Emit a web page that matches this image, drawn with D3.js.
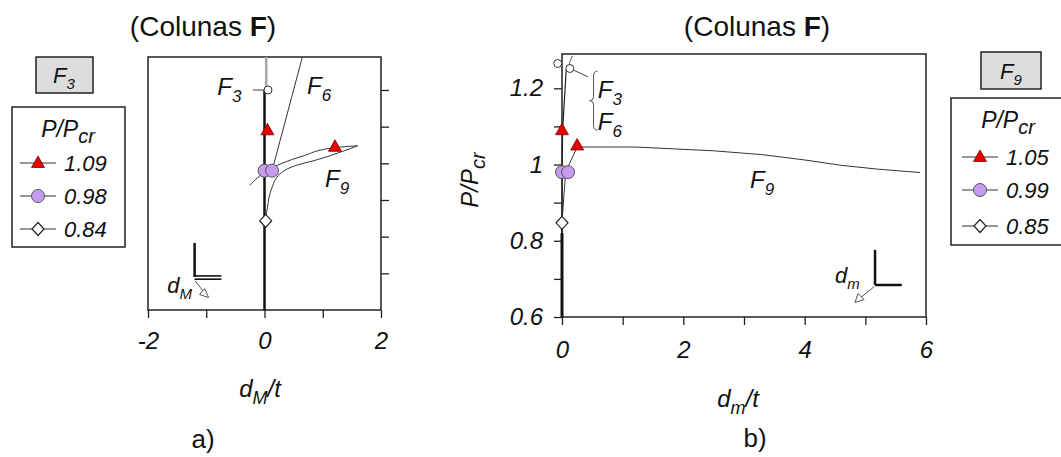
<!doctype html>
<html lang="pt">
<head>
<meta charset="UTF-8">
<title>Colunas F</title>
<script src="https://cdn.jsdelivr.net/npm/d3@7"></script>
<style>
body { margin: 0; background: #fff; }
text { font-family: Arial, "Liberation Sans", sans-serif; fill: #111; }
.it { font-style: italic; }
</style>
</head>
<body>
<div id="chart"></div>
<script>
// panel a) -- d_M/t vs P/Pcr
var aXTicks = [-2, -1, 0, 1, 2];
var aXLabels = [-2, 0, 2];
var aYTicks = [0.7, 0.8, 0.9, 1.0, 1.1, 1.2];
var aF3 = [[0, 0.6], [0, 1.2]];
var aF3top = [[0.03, 1.2], [0.03, 1.29]];
var aF6 = [[0.13, 0.98], [0.65, 1.29]];
var aF9up = [[-0.25, 0.94], [0.05, 0.98], [0.3, 1.0], [0.66, 1.02], [1.21, 1.043], [1.6, 1.048]];
var aF9lo = [[1.6, 1.048], [0.95, 1.012], [0.5, 0.992], [0.27, 0.972], [0.12, 0.93], [0.05, 0.88], [0.02, 0.845]];
var aTri = [[0.05, 1.09], [1.21, 1.045]];
var aCirc = [[0, 0.98], [0.13, 0.98]];
var aDia = [[0.02, 0.843]];
var aOpen = [[0.06, 1.2]];
var aLegend = ['1.09', '0.98', '0.84'];

// panel b) -- d_m/t vs P/Pcr
var bXTicks = [0, 1, 2, 3, 4, 5, 6];
var bXLabels = [0, 2, 4, 6];
var bYTicks = [0.6, 0.7, 0.8, 0.9, 1.0, 1.1, 1.2];
var bYLabels = ['0.6', '0.8', '1', '1.2'];
var bF3 = [[0, 0.6], [0, 0.98], [0.01, 1.09], [0.07, 1.25]];
var bF9 = [[0, 0.6], [0, 0.85], [0.06, 0.98], [0.25, 1.046], [0.6, 1.046], [1.2, 1.046], [1.6, 1.043],
           [2.5, 1.036], [3.3, 1.026], [4, 1.012], [4.6, 0.998], [5.2, 0.988], [5.9, 0.979]];
var bTri = [[0, 1.09], [0.25, 1.05]];
var bCirc = [[0, 0.98], [0.1, 0.98]];
var bDia = [[0, 0.847]];
var bOpen = [[-0.07, 1.265], [0.13, 1.252]];
var bLegend = ['1.05', '0.99', '0.85'];

var svg = d3.select('#chart').append('svg')
  .attr('width', 1061)
  .attr('height', 457);

var ax = d3.scaleLinear().domain([-2, 2]).range([148, 381]);
var ay = d3.scaleLinear().domain([0.6, 1.29]).range([310, 57]);
var bx = d3.scaleLinear().domain([0, 6]).range([562, 926]);
var by = d3.scaleLinear().domain([0.6, 1.29]).range([317, 54]);

var line = function(x, y) {
  return d3.line().x(function(d) { return x(d[0]); }).y(function(d) { return y(d[1]); });
};

function marker(g, type, cx, cy) {
  if (type == 'tri') {
    g.append('path')
      .attr('d', 'M' + cx + ',' + (cy - 7) + 'L' + (cx + 6.5) + ',' + (cy + 4.5) + 'L' + (cx - 6.5) + ',' + (cy + 4.5) + 'Z')
      .attr('fill', '#e60000').attr('stroke', '#700').attr('stroke-width', 0.8);
  } else if (type == 'circ') {
    g.append('circle').attr('cx', cx).attr('cy', cy).attr('r', 6.5)
      .attr('fill', '#c49cf0').attr('stroke', '#555').attr('stroke-width', 1);
  } else if (type == 'dia') {
    g.append('path')
      .attr('d', 'M' + cx + ',' + (cy - 6.5) + 'L' + (cx + 6) + ',' + cy + 'L' + cx + ',' + (cy + 6.5) + 'L' + (cx - 6) + ',' + cy + 'Z')
      .attr('fill', '#fff').attr('stroke', '#222').attr('stroke-width', 1.2);
  } else {
    g.append('circle').attr('cx', cx).attr('cy', cy).attr('r', 4)
      .attr('fill', '#fff').attr('stroke', '#333').attr('stroke-width', 1);
  }
}

// text with a subscript part, e.g. F + 3
function subText(g, x, y, main, sub, rest, size, subSize, anchor) {
  var t = g.append('text').attr('x', x).attr('y', y)
    .attr('class', 'it').attr('font-size', size).attr('text-anchor', anchor || 'start');
  t.append('tspan').text(main);
  t.append('tspan').attr('font-size', subSize).attr('dy', size * 0.28).text(sub);
  if (rest) t.append('tspan').attr('dy', -size * 0.28).text(rest);
  return t;
}

function legend(g, x0, y0, w, h, cx, rows, vals) {
  g.append('rect').attr('x', x0).attr('y', y0).attr('width', w).attr('height', h)
    .attr('fill', '#fff').attr('stroke', '#222').attr('stroke-width', 1.5);
  var types = ['tri', 'circ', 'dia'];
  types.forEach(function(t, i) {
    var y = rows[i];
    g.append('line').attr('x1', cx - 18).attr('x2', cx + 18).attr('y1', y).attr('y2', y)
      .attr('stroke', '#333').attr('stroke-width', 1);
    marker(g, t, cx, y);
    g.append('text').attr('class', 'it').attr('x', cx + 26).attr('y', y + 8)
      .attr('font-size', 22).text(vals[i]);
  });
}

// ---------- panel a ----------
var ga = svg.append('g');

ga.append('text').attr('x', 203).attr('y', 36).attr('text-anchor', 'middle').attr('font-size', 28)
  .call(function(t) {
    t.append('tspan').text('(Colunas ');
    t.append('tspan').attr('font-weight', 'bold').text('F');
    t.append('tspan').text(')');
  });

ga.append('g').attr('transform', 'translate(0,' + ay(0.6) + ')')
  .call(d3.axisBottom(ax).tickValues(aXTicks).tickSize(8).tickPadding(14)
    .tickFormat(function(d) { return aXLabels.indexOf(d) >= 0 ? String(d) : ''; }))
  .call(function(g) {
    g.select('.domain').remove();
    g.selectAll('text').attr('class', 'it').attr('font-size', 24).attr('fill', '#111')
      .attr('font-family', null);
  });

ga.append('g').attr('transform', 'translate(' + ax(2) + ',0)')
  .call(d3.axisRight(ay).tickValues(aYTicks).tickSize(8).tickFormat(''))
  .call(function(g) { g.select('.domain').remove(); });

ga.selectAll('.tick line').attr('stroke', '#222').attr('stroke-width', 1.3);

ga.append('rect').attr('x', ax(-2)).attr('y', ay(1.29))
  .attr('width', ax(2) - ax(-2)).attr('height', ay(0.6) - ay(1.29))
  .attr('fill', 'none').attr('stroke', '#222').attr('stroke-width', 1.5);

ga.append('path').datum(aF3top).attr('d', line(ax, ay)).attr('fill', 'none')
  .attr('stroke', '#aaa').attr('stroke-width', 2.5);
ga.append('path').datum(aF3).attr('d', line(ax, ay)).attr('fill', 'none')
  .attr('stroke', '#111').attr('stroke-width', 2.5);
ga.append('path').datum(aF6).attr('d', line(ax, ay)).attr('fill', 'none')
  .attr('stroke', '#333').attr('stroke-width', 1);
[aF9up, aF9lo].forEach(function(s) {
  ga.append('path').datum(s).attr('d', line(ax, ay).curve(d3.curveMonotoneY)).attr('fill', 'none')
    .attr('stroke', '#333').attr('stroke-width', 1);
});
ga.append('line').attr('x1', ax(-0.2)).attr('x2', ax(0.06)).attr('y1', ay(1.2)).attr('y2', ay(1.2))
  .attr('stroke', '#444').attr('stroke-width', 1);

aOpen.forEach(function(d) { marker(ga, 'open', ax(d[0]), ay(d[1])); });
aDia.forEach(function(d) { marker(ga, 'dia', ax(d[0]), ay(d[1])); });
aCirc.forEach(function(d) { marker(ga, 'circ', ax(d[0]), ay(d[1])); });
aTri.forEach(function(d) { marker(ga, 'tri', ax(d[0]), ay(d[1])); });

subText(ga, ax(-0.81), ay(1.186), 'F', '3', null, 24, 17);
subText(ga, ax(0.73), ay(1.189), 'F', '6', null, 24, 17);
subText(ga, ax(1.04), ay(0.935), 'F', '9', null, 24, 17);

// d_M icon
ga.append('line').attr('x1', ax(-1.2)).attr('x2', ax(-1.2)).attr('y1', ay(0.783)).attr('y2', ay(0.69))
  .attr('stroke', '#111').attr('stroke-width', 2.5);
[0.693, 0.684].forEach(function(v) {
  ga.append('line').attr('x1', ax(-1.2)).attr('x2', ax(-0.74)).attr('y1', ay(v)).attr('y2', ay(v))
    .attr('stroke', '#111').attr('stroke-width', 1.6);
});
ga.append('line').attr('x1', ax(-1.19)).attr('y1', ay(0.68)).attr('x2', ax(-1.0)).attr('y2', ay(0.64))
  .attr('stroke', '#555').attr('stroke-width', 1);
ga.append('path')
  .attr('d', 'M' + ax(-0.96) + ',' + ay(0.634) + 'l-9,-3l5,-6z')
  .attr('fill', '#fff').attr('stroke', '#555').attr('stroke-width', 1);
subText(ga, ax(-1.67), ay(0.646), 'd', 'M', null, 22, 15);

// legend a
ga.append('rect').attr('x', 36).attr('y', 57).attr('width', 57).attr('height', 36)
  .attr('fill', '#ddd').attr('stroke', '#222').attr('stroke-width', 1.5);
subText(ga, 64, 83, 'F', '3', null, 22, 15, 'middle');
legend(ga, 12, 107, 113, 140, 38, [163, 196, 229], aLegend);
subText(ga, 68, 137, 'P/P', 'cr', null, 23, 20, 'middle');

subText(ga, 260, 397, 'd', 'M', '/t', 24, 18, 'middle');
ga.append('text').attr('x', 203).attr('y', 448).attr('text-anchor', 'middle').attr('font-size', 26).text('a)');

// ---------- panel b ----------
var gb = svg.append('g');

gb.append('text').attr('x', 757).attr('y', 36).attr('text-anchor', 'middle').attr('font-size', 28)
  .call(function(t) {
    t.append('tspan').text('(Colunas ');
    t.append('tspan').attr('font-weight', 'bold').text('F');
    t.append('tspan').text(')');
  });

gb.append('g').attr('transform', 'translate(0,' + by(0.6) + ')')
  .call(d3.axisBottom(bx).tickValues(bXTicks).tickSize(8).tickPadding(16)
    .tickFormat(function(d) { return bXLabels.indexOf(d) >= 0 ? String(d) : ''; }))
  .call(function(g) {
    g.select('.domain').remove();
    g.selectAll('text').attr('class', 'it').attr('font-size', 24).attr('fill', '#111')
      .attr('font-family', null);
  });

gb.append('g').attr('transform', 'translate(' + bx(0) + ',0)')
  .call(d3.axisLeft(by).tickValues(bYTicks).tickSize(8).tickPadding(11)
    .tickFormat(function(d) {
      var s = String(+d.toFixed(1));
      return bYLabels.indexOf(s) >= 0 ? s : '';
    }))
  .call(function(g) {
    g.select('.domain').remove();
    g.selectAll('text').attr('class', 'it').attr('font-size', 24).attr('fill', '#111')
      .attr('font-family', null);
  });

gb.selectAll('.tick line').attr('stroke', '#222').attr('stroke-width', 1.3);

gb.append('rect').attr('x', bx(0)).attr('y', by(1.29))
  .attr('width', bx(6) - bx(0)).attr('height', by(0.6) - by(1.29))
  .attr('fill', 'none').attr('stroke', '#222').attr('stroke-width', 1.5);

gb.append('path').datum(bF9).attr('d', line(bx, by)).attr('fill', 'none')
  .attr('stroke', '#333').attr('stroke-width', 1);
gb.append('path').datum(bF3).attr('d', line(bx, by)).attr('fill', 'none')
  .attr('stroke', '#222').attr('stroke-width', 1.2);
gb.append('line').attr('x1', bx(0)).attr('x2', bx(0)).attr('y1', by(0.6)).attr('y2', by(0.82))
  .attr('stroke', '#111').attr('stroke-width', 3);
gb.append('line').attr('x1', bx(0.16)).attr('y1', by(1.25)).attr('x2', bx(0.43)).attr('y2', by(1.23))
  .attr('stroke', '#444').attr('stroke-width', 1);
gb.append('path').attr('d', 'M' + bx(0.17) + ',' + by(1.285) + 'q-4,6 -3,14')
  .attr('fill', 'none').attr('stroke', '#555').attr('stroke-width', 1);

bOpen.forEach(function(d) { marker(gb, 'open', bx(d[0]), by(d[1])); });
bDia.forEach(function(d) { marker(gb, 'dia', bx(d[0]), by(d[1])); });
bCirc.forEach(function(d) { marker(gb, 'circ', bx(d[0]), by(d[1])); });
bTri.forEach(function(d) { marker(gb, 'tri', bx(d[0]), by(d[1])); });

// brace for F3 / F6
var bx0 = bx(0.52), y0 = by(1.245), y1 = by(1.09), ym = (y0 + y1) / 2;
gb.append('path')
  .attr('d', 'M' + (bx0 + 4) + ',' + y0 + 'Q' + bx0 + ',' + y0 + ' ' + bx0 + ',' + (y0 + 5) +
    'L' + bx0 + ',' + (ym - 4) + 'Q' + bx0 + ',' + ym + ' ' + (bx0 - 4) + ',' + ym +
    'Q' + bx0 + ',' + ym + ' ' + bx0 + ',' + (ym + 4) +
    'L' + bx0 + ',' + (y1 - 5) + 'Q' + bx0 + ',' + y1 + ' ' + (bx0 + 4) + ',' + y1)
  .attr('fill', 'none').attr('stroke', '#555').attr('stroke-width', 1);
subText(gb, bx(0.59), by(1.174), 'F', '3', null, 24, 17);
subText(gb, bx(0.59), by(1.09), 'F', '6', null, 24, 17);
subText(gb, bx(3.1), by(0.938), 'F', '9', null, 24, 17);

// d_m icon
gb.append('line').attr('x1', bx(5.16)).attr('x2', bx(5.16)).attr('y1', by(0.776)).attr('y2', by(0.684))
  .attr('stroke', '#111').attr('stroke-width', 2.5);
gb.append('line').attr('x1', bx(5.16)).attr('x2', bx(5.6)).attr('y1', by(0.684)).attr('y2', by(0.684))
  .attr('stroke', '#111').attr('stroke-width', 2.5);
gb.append('line').attr('x1', bx(5.15)).attr('y1', by(0.68)).attr('x2', bx(4.93)).attr('y2', by(0.652))
  .attr('stroke', '#555').attr('stroke-width', 1);
gb.append('path')
  .attr('d', 'M' + bx(4.83) + ',' + by(0.638) + 'l3,-9l6,6z')
  .attr('fill', '#fff').attr('stroke', '#555').attr('stroke-width', 1);
subText(gb, bx(4.5), by(0.689), 'd', 'm', null, 22, 15);

// legend b
gb.append('rect').attr('x', 981).attr('y', 52).attr('width', 60).attr('height', 37)
  .attr('fill', '#ddd').attr('stroke', '#222').attr('stroke-width', 1.5);
subText(gb, 1011, 79, 'F', '9', null, 22, 15, 'middle');
legend(gb, 951, 98, 120, 147, 980, [157, 190, 226], bLegend);
subText(gb, 1008, 128, 'P/P', 'cr', null, 23, 20, 'middle');

gb.append('g').attr('transform', 'translate(478,180) rotate(-90)')
  .call(function(g) { subText(g, 0, 0, 'P/P', 'cr', null, 24, 20, 'middle'); });

subText(gb, 738, 407, 'd', 'm', '/t', 24, 18, 'middle');
gb.append('text').attr('x', 755).attr('y', 447).attr('text-anchor', 'middle').attr('font-size', 26).text('b)');
</script>
</body>
</html>
